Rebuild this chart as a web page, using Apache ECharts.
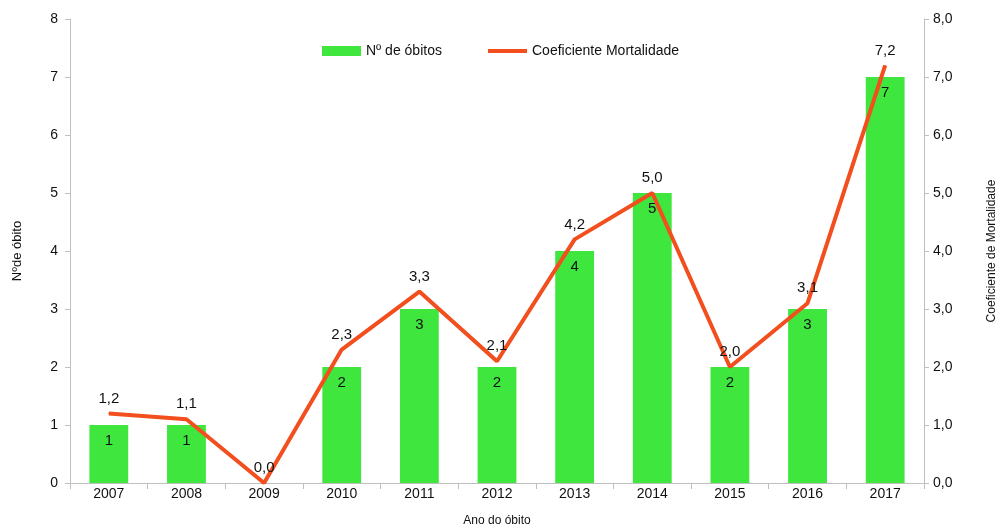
<!DOCTYPE html>
<html>
<head>
<meta charset="utf-8">
<script src="https://cdn.jsdelivr.net/npm/echarts@6/dist/echarts.min.js"></script>
<style>
    html, body { margin: 0; padding: 0; background: #fff; }
    #chart { width: 1001px; height: 526px; }
</style>
</head>
<body>
<div id="chart"></div>
<script>
var anos = ['2007','2008','2009','2010','2011','2012','2013','2014','2015','2016','2017'];
var obitos = [1, 1, 0, 2, 3, 2, 4, 5, 2, 3, 7];
var coeficiente = [1.2, 1.1, 0.0, 2.3, 3.3, 2.1, 4.2, 5.0, 2.0, 3.1, 7.2];

var fonte = 'Liberation Sans, Arial, sans-serif';
var cinza = '#bfbfbf';
var virgula = function (v) { return v.toFixed(1).replace('.', ','); };

var myChart = echarts.init(document.getElementById('chart'));
var option = {
    animation: false,
    textStyle: { fontFamily: fonte },
    legend: [
        {
            top: 39,
            left: 317,
            itemWidth: 39,
            itemHeight: 10,
            itemGap: 5,
            textStyle: { fontFamily: fonte, fontSize: 14, color: '#111' },
            data: [{ name: 'Nº de óbitos', icon: 'rect' }]
        },
        {
            top: 39,
            left: 483,
            itemWidth: 39,
            itemHeight: 4,
            textStyle: { fontFamily: fonte, fontSize: 14, color: '#111' },
            data: [{ name: 'Coeficiente Mortalidade', icon: 'rect' }]
        }
    ],
    grid: {
        left: 70,
        right: 77,
        top: 19,
        bottom: 43,
        outerBoundsMode: 'none',
        containLabel: false
    },
    xAxis: {
        type: 'category',
        data: anos,
        name: 'Ano do óbito',
        nameLocation: 'middle',
        nameGap: 32,
        nameTextStyle: { fontSize: 12, color: '#111' },
        axisLine: { lineStyle: { color: cinza } },
        axisTick: { show: true, lineStyle: { color: cinza }, length: 6 },
        axisLabel: { fontSize: 14, color: '#111', margin: 4 }
    },
    yAxis: [
        {
            type: 'value',
            min: 0,
            max: 8,
            interval: 1,
            name: 'Nºde óbito',
            nameLocation: 'middle',
            nameGap: 46,
            nameTextStyle: { fontSize: 13, color: '#111' },
            splitLine: { show: false },
            axisLine: { show: true, lineStyle: { color: cinza } },
            axisTick: { show: true, lineStyle: { color: cinza }, length: 5 },
            axisLabel: { fontSize: 14, color: '#111', margin: 12 }
        },
        {
            type: 'value',
            min: 0,
            max: 8,
            interval: 1,
            name: 'Coeficiente de Mortalidade',
            nameLocation: 'middle',
            nameGap: 62,
            nameRotate: 90,
            nameTextStyle: { fontSize: 12, color: '#111' },
            splitLine: { show: false },
            axisLine: { show: true, lineStyle: { color: cinza } },
            axisTick: { show: true, lineStyle: { color: cinza }, length: 5 },
            axisLabel: { fontSize: 14, color: '#111', margin: 9, formatter: virgula }
        }
    ],
    series: [
        {
            name: 'Nº de óbitos',
            type: 'bar',
            yAxisIndex: 0,
            barWidth: '50%',
            color: '#3ee63e',
            label: {
                show: true,
                position: 'insideTop',
                distance: 8,
                fontSize: 15,
                color: '#111',
                formatter: function (p) { return p.value === 0 ? '' : String(p.value); }
            },
            data: obitos
        },
        {
            name: 'Coeficiente Mortalidade',
            type: 'line',
            yAxisIndex: 1,
            color: '#f24e1e',
            symbol: 'circle',
            symbolSize: 1,
            showSymbol: true,
            lineStyle: { width: 4 },
            label: {
                show: true,
                position: 'top',
                distance: 7,
                fontSize: 15,
                color: '#111',
                formatter: function (p) { return virgula(p.value); }
            },
            data: coeficiente
        }
    ]
};
myChart.setOption(option);
</script>
</body>
</html>
